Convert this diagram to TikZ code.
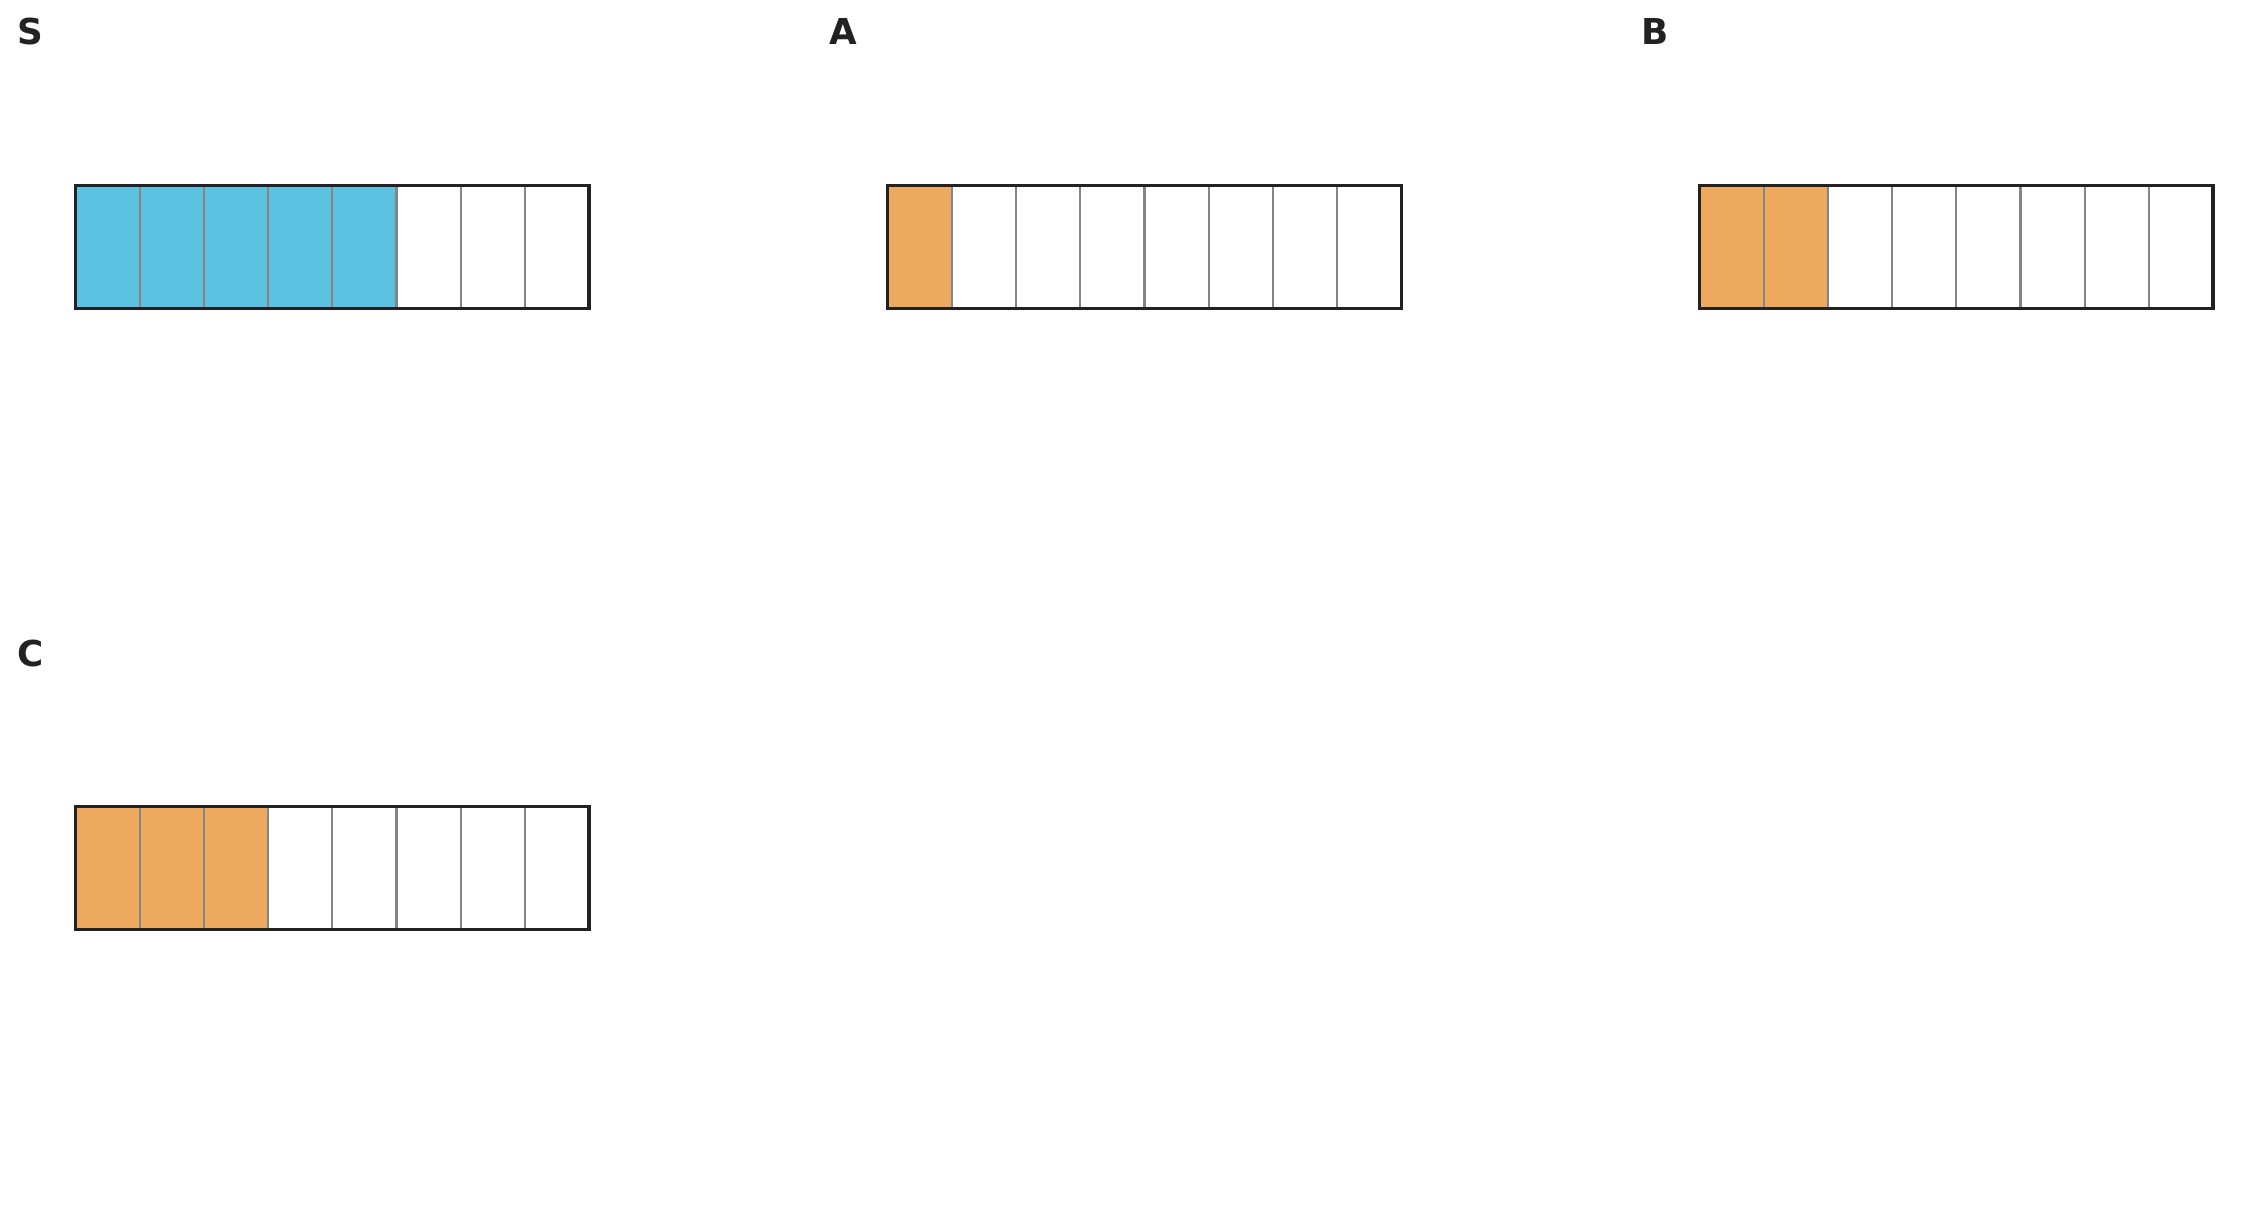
\documentclass[tikz,border=0pt]{standalone}
\usepackage{fontspec}
\setmainfont{DejaVu Sans}
\definecolor{frameblack}{HTML}{222222}
\definecolor{divgray}{HTML}{858585}
\definecolor{fillblue}{HTML}{5BC2E1}
\definecolor{fillorange}{HTML}{EDA95E}
\newcommand{\fracbar}[6]{%
  \node[paneltag] (#1tag) at (#2-58, #3-140.5) {#4};
  \foreach \i in {1,...,8} {
    \ifnum\i>#5\relax \def\cellfill{white}\else\def\cellfill{#6}\fi
    \node[cellbox, fill=\cellfill] (#1c\i) at ({#2+(\i-1)*64.1875}, #3) {};
  }
  \draw[outerframe] (#1c1.north west) rectangle (#1c8.south east);
}
\begin{document}
\begin{tikzpicture}[x=1pt,y=-1pt,
  cellbox/.style={draw=divgray, line width=2.2pt, minimum width=64.1875pt,
    minimum height=123pt, inner sep=0pt, outer sep=0pt, anchor=north west},
  outerframe/.style={draw=frameblack, line width=3.3pt},
  paneltag/.style={anchor=base west, inner sep=0pt, text=frameblack,
    font=\fontsize{35.7}{40}\selectfont\bfseries}]
\useasboundingbox[fill=white] (0,0) rectangle (2252,1215);
\fracbar{s}{75.5}{185.5}{S}{5}{fillblue}
\fracbar{a}{887.7}{185.5}{A}{1}{fillorange}
\fracbar{b}{1699.5}{185.5}{B}{2}{fillorange}
\fracbar{c}{75.5}{806.8}{C}{3}{fillorange}
\end{tikzpicture}
\end{document}
